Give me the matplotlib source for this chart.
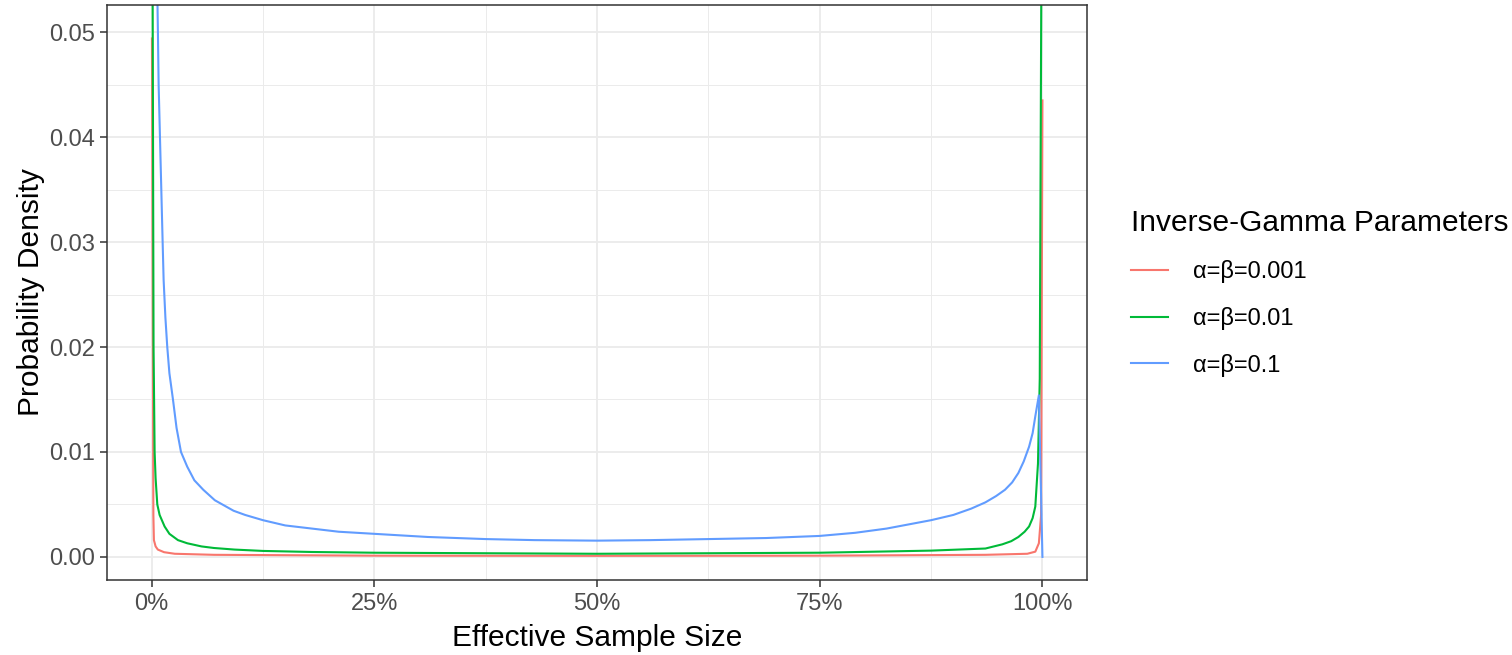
import matplotlib
matplotlib.use("Agg")
import matplotlib.pyplot as plt
from matplotlib.lines import Line2D
from matplotlib.ticker import FixedLocator, FuncFormatter

plt.rcParams["font.family"] = ["Liberation Sans", "DejaVu Sans"]

# values (x in percent, y = density)
labels = ["α=β=0.001", "α=β=0.01", "α=β=0.1"]
colors = ["#F8766D", "#00BA38", "#619CFF"]

red_x = [0.04, 0.2, 0.26, 0.45, 0.7, 1.4, 2.6, 7.0, 25, 50, 75, 93.6, 98.3, 99.2,
         99.6, 99.85, 100]
red_y = [0.0494, 0.004, 0.0016, 0.0010, 0.0007, 0.00045, 0.0003, 0.0002, 0.00012,
         0.0001, 0.00012, 0.0002, 0.0003, 0.0005, 0.0013, 0.004, 0.0435]

green_x = [0.1, 0.22, 0.34, 0.45, 0.64, 0.9, 1.46, 2.0, 2.96, 4.0, 5.6, 7.0, 9.3,
           12.5, 18, 25, 50, 75, 87.5, 93.6, 95.5, 96.5, 97.3, 98.0, 98.5, 98.9,
           99.2, 99.5, 99.7, 99.9]
green_y = [0.06, 0.020, 0.010, 0.0075, 0.005, 0.004, 0.0029, 0.0022, 0.0016, 0.0013,
           0.0010, 0.00085, 0.0007, 0.00057, 0.00047, 0.0004, 0.0003, 0.0004, 0.0006,
           0.0008, 0.0012, 0.0015, 0.0019, 0.0024, 0.0029, 0.0037, 0.0048, 0.0089,
           0.017, 0.06]

blue_x = [0.60, 0.71, 0.79, 0.94, 1.09, 1.24, 1.35, 1.55, 1.76, 2.0, 2.4, 2.8, 3.3,
          4.0, 4.8, 5.8, 7.1, 9.2, 10.5, 12.5, 15, 18, 21, 25, 31, 37.5, 43, 50,
          56, 62.5, 69, 75, 79, 82.5, 85, 87.5, 90, 92, 93.6, 94.8, 95.8, 96.6,
          97.3, 97.9, 98.5, 98.9, 99.2, 99.6, 100]
blue_y = [0.056, 0.050, 0.045, 0.040, 0.035, 0.030, 0.0264, 0.0228, 0.020, 0.0175,
          0.015, 0.0123, 0.010, 0.0086, 0.0073, 0.0064, 0.0054, 0.0044, 0.0040,
          0.0035, 0.0030, 0.0027, 0.0024, 0.0022, 0.0019, 0.0017, 0.0016, 0.00155,
          0.0016, 0.0017, 0.0018, 0.0020, 0.0023, 0.0027, 0.0031, 0.0035, 0.0040,
          0.0046, 0.0052, 0.0058, 0.0064, 0.0071, 0.0080, 0.0091, 0.0105, 0.0118,
          0.0134, 0.0154, 0.0]

x_ticks = [0, 25, 50, 75, 100]
x_minor = [12.5, 37.5, 62.5, 87.5]
y_ticks = [0.00, 0.01, 0.02, 0.03, 0.04, 0.05]
y_minor = [0.005, 0.015, 0.025, 0.035, 0.045]

fig = plt.figure(figsize=(15.12, 6.55), dpi=100)
ax = fig.add_axes([0.0708, 0.1145, 0.6481, 0.878])

series = [(red_x, red_y), (green_x, green_y), (blue_x, blue_y)]
for (xs, ys), col in zip(series, colors):
    ax.plot(xs, ys, color=col, linewidth=1.5, solid_joinstyle="round")

ax.set_xlim(-5, 105)
ax.set_ylim(-0.0022, 0.0526)

ax.xaxis.set_major_locator(FixedLocator(x_ticks))
ax.xaxis.set_minor_locator(FixedLocator(x_minor))
ax.yaxis.set_major_locator(FixedLocator(y_ticks))
ax.yaxis.set_minor_locator(FixedLocator(y_minor))
ax.xaxis.set_major_formatter(FuncFormatter(lambda v, p: f"{v:.0f}%"))
ax.yaxis.set_major_formatter(FuncFormatter(lambda v, p: f"{v:.2f}"))

ax.grid(which="major", color="#EBEBEB", linewidth=1.3)
ax.grid(which="minor", color="#EBEBEB", linewidth=0.7)
ax.set_axisbelow(True)

for sp in ax.spines.values():
    sp.set_color("#333333")
    sp.set_linewidth(1.1)

ax.tick_params(which="major", length=5, width=1.1, color="#333333",
               labelsize=17, labelcolor="#4D4D4D", pad=4)
ax.tick_params(which="minor", length=0)

ax.set_xlabel("Effective Sample Size", fontsize=21.5, labelpad=7)
ax.set_ylabel("Probability Density", fontsize=21.5, labelpad=2.5)

handles = [Line2D([0], [0], color=c, linewidth=1.5) for c in colors]
leg = fig.legend(handles, labels, loc="upper left", bbox_to_anchor=(0.742, 0.6957),
                 frameon=False, fontsize=17, title="Inverse-Gamma Parameters",
                 title_fontsize=21.5, handlelength=1.55, handletextpad=1.05,
                 labelspacing=1.0, alignment="left", borderaxespad=0)

fig.savefig("out.png", dpi=100)
